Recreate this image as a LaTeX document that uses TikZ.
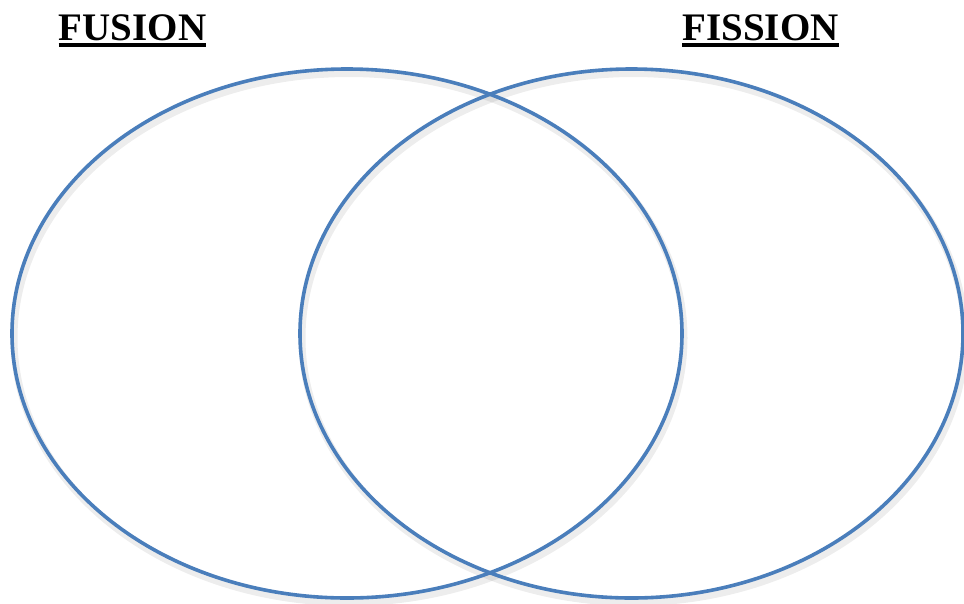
\documentclass[tikz,border=0pt]{standalone}
\usepackage{fontspec}
\setmainfont{Liberation Serif}
\definecolor{vennblue}{HTML}{4A7EBB}
\begin{document}
\begin{tikzpicture}[x=1pt,y=-1pt,
  vennring/.style={draw=vennblue,line width=3.6pt},
  ringshadow/.style={draw=black,opacity=0.07,line width=7pt},
  title/.style={font=\fontsize{39}{40}\selectfont\bfseries,inner sep=0pt,anchor=base},
  uline/.style={line width=3.6pt,black}]
\useasboundingbox (0,0) rectangle (964,603);
% soft shadows
\draw[ringshadow] (349,338) ellipse [x radius=335,y radius=264.5];
\draw[ringshadow] (633.5,338) ellipse [x radius=331.5,y radius=264.5];
% rings
\node[draw=none,inner sep=0pt] (lc) at (347,333.5) {};
\node[draw=none,inner sep=0pt] (rc) at (631.5,333.5) {};
\draw[vennring] (lc) ellipse [x radius=335,y radius=264.5];
\draw[vennring] (rc) ellipse [x radius=331.5,y radius=264.5];
% titles
\node[title] (fusion) at (132.5,40) {FUSION};
\node[title] (fission) at (760.5,40) {FISSION};
\draw[uline] ([yshift=-5pt]fusion.base west) -- ([yshift=-5pt]fusion.base east);
\draw[uline] ([yshift=-5pt]fission.base west) -- ([yshift=-5pt]fission.base east);
\end{tikzpicture}
\end{document}
